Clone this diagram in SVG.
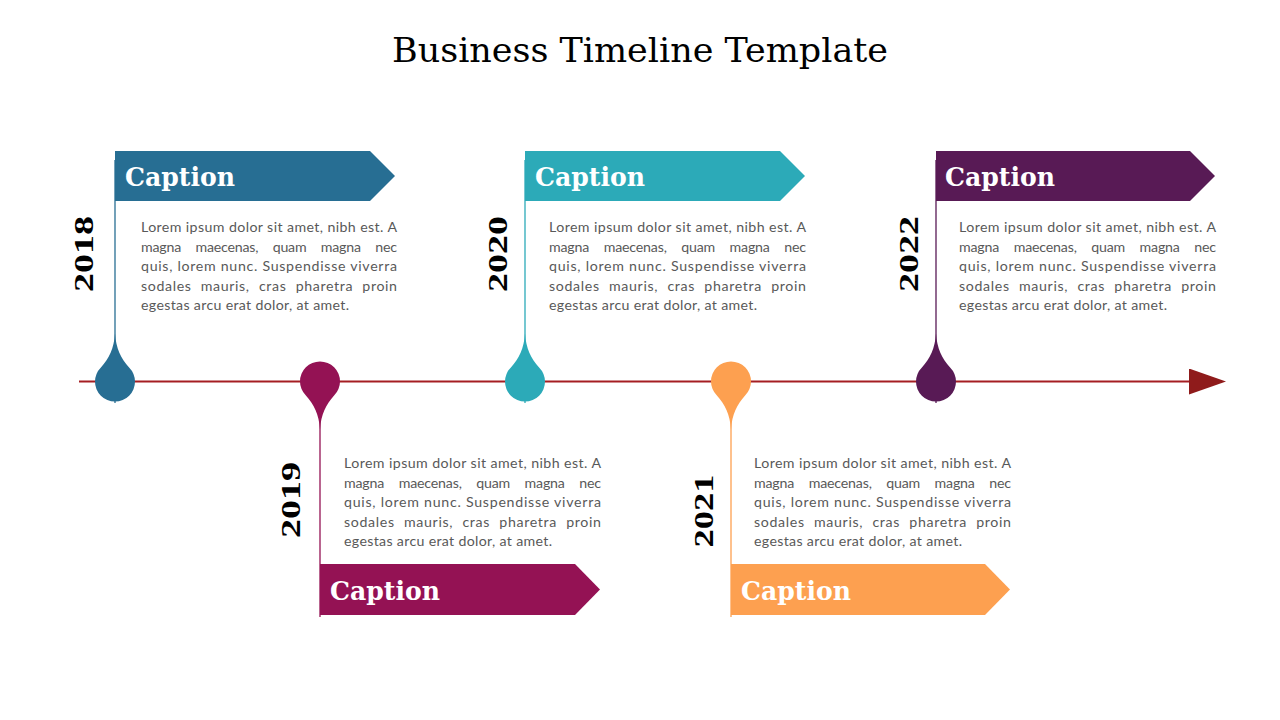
<svg xmlns="http://www.w3.org/2000/svg" xmlns:xlink="http://www.w3.org/1999/xlink" width="1280" height="720" viewBox="0 0 1280 720">
<style>
.title{font-family:"DejaVu Serif","Liberation Serif",serif;font-size:33px;fill:#000}
.cap{font-family:"DejaVu Serif","Liberation Serif",serif;font-weight:bold;font-size:26px;fill:#fff}
.year{font-family:"Liberation Serif","DejaVu Serif",serif;font-weight:bold;font-size:27px;fill:#000}
.body{font-family:Lato,"Open Sans",sans-serif;font-size:14.2px;fill:#595959}
.stem{stroke-width:1.3;fill:none}
</style>
<defs>
<path id="dropUp" d="M0,-48 C1,-33 6,-23 14.1,-14.1 A20,20 0 1 1 -14.1,-14.1 C-6,-23 -1,-33 0,-48 Z"/>
<path id="dropDown" d="M0,48 C1,33 6,23 14.1,14.1 A20,20 0 1 0 -14.1,14.1 C-6,23 -1,33 0,48 Z"/>
<marker id="arrow" markerWidth="37" markerHeight="26" refX="0" refY="13" orient="auto" markerUnits="userSpaceOnUse">
<path d="M0,0 L37,13 L0,26 Z" fill="#8F1B1B"/>
</marker>
</defs>
<rect width="1280" height="720" fill="#fff"/>
<text class="title" x="640" y="62" text-anchor="middle" textLength="496" lengthAdjust="spacingAndGlyphs">Business Timeline Template</text>

<g id="connectors">
<line x1="79" y1="381.5" x2="1189" y2="381.5" stroke="#A51E22" stroke-width="2" marker-end="url(#arrow)"/>
</g>

<g id="node-2018">
<line class="stem" x1="115" y1="160" x2="115" y2="403" stroke="#276E93"/>
<use xlink:href="#dropUp" transform="translate(115,381.5)" fill="#276E93"/>
<polygon points="115,151 370,151 395,176 370,201 115,201" fill="#276E93"/>
<text class="cap" x="125" y="186" textLength="110" lengthAdjust="spacingAndGlyphs">Caption</text>
<text class="year" transform="translate(93,254) rotate(-90)" text-anchor="middle" textLength="76" lengthAdjust="spacingAndGlyphs">2018</text>
<g class="body">
<text x="141" y="232" textLength="256" lengthAdjust="spacing">Lorem ipsum dolor sit amet, nibh est. A</text>
<text x="141" y="251.5" textLength="256" lengthAdjust="spacing" word-spacing="11">magna maecenas, quam magna nec</text>
<text x="141" y="271" textLength="256" lengthAdjust="spacing">quis, lorem nunc. Suspendisse viverra</text>
<text x="141" y="290.5" textLength="256" lengthAdjust="spacing" word-spacing="5">sodales mauris, cras pharetra proin</text>
<text x="141" y="310" textLength="208" lengthAdjust="spacing">egestas arcu erat dolor, at amet.</text>
</g>
</g>

<g id="node-2019">
<line class="stem" x1="320" y1="381" x2="320" y2="617" stroke="#941254"/>
<use xlink:href="#dropDown" transform="translate(320,381.5)" fill="#941254"/>
<polygon points="320,564 575,564 600,589.5 575,615 320,615" fill="#941254"/>
<text class="cap" x="330" y="600" textLength="110" lengthAdjust="spacingAndGlyphs">Caption</text>
<text class="year" transform="translate(300,500) rotate(-90)" text-anchor="middle" textLength="76" lengthAdjust="spacingAndGlyphs">2019</text>
<g class="body">
<text x="344" y="468" textLength="257" lengthAdjust="spacing">Lorem ipsum dolor sit amet, nibh est. A</text>
<text x="344" y="487.5" textLength="257" lengthAdjust="spacing" word-spacing="11">magna maecenas, quam magna nec</text>
<text x="344" y="507" textLength="257" lengthAdjust="spacing">quis, lorem nunc. Suspendisse viverra</text>
<text x="344" y="526.5" textLength="257" lengthAdjust="spacing" word-spacing="5">sodales mauris, cras pharetra proin</text>
<text x="344" y="546" textLength="208" lengthAdjust="spacing">egestas arcu erat dolor, at amet.</text>
</g>
</g>

<g id="node-2020">
<line class="stem" x1="525" y1="160" x2="525" y2="403" stroke="#2CAAB8"/>
<use xlink:href="#dropUp" transform="translate(525,381.5)" fill="#2CAAB8"/>
<polygon points="525,151 780,151 805,176 780,201 525,201" fill="#2CAAB8"/>
<text class="cap" x="535" y="186" textLength="110" lengthAdjust="spacingAndGlyphs">Caption</text>
<text class="year" transform="translate(507,254) rotate(-90)" text-anchor="middle" textLength="76" lengthAdjust="spacingAndGlyphs">2020</text>
<g class="body">
<text x="549" y="232" textLength="257" lengthAdjust="spacing">Lorem ipsum dolor sit amet, nibh est. A</text>
<text x="549" y="251.5" textLength="257" lengthAdjust="spacing" word-spacing="11">magna maecenas, quam magna nec</text>
<text x="549" y="271" textLength="257" lengthAdjust="spacing">quis, lorem nunc. Suspendisse viverra</text>
<text x="549" y="290.5" textLength="257" lengthAdjust="spacing" word-spacing="5">sodales mauris, cras pharetra proin</text>
<text x="549" y="310" textLength="208" lengthAdjust="spacing">egestas arcu erat dolor, at amet.</text>
</g>
</g>

<g id="node-2021">
<line class="stem" x1="731" y1="381" x2="731" y2="617" stroke="#FDA050"/>
<use xlink:href="#dropDown" transform="translate(731,381.5)" fill="#FDA050"/>
<polygon points="731,564 985,564 1010,589.5 985,615 731,615" fill="#FDA050"/>
<text class="cap" x="741" y="600" textLength="110" lengthAdjust="spacingAndGlyphs">Caption</text>
<text class="year" transform="translate(713,511) rotate(-90)" text-anchor="middle" textLength="73" lengthAdjust="spacingAndGlyphs">2021</text>
<g class="body">
<text x="754" y="468" textLength="257" lengthAdjust="spacing">Lorem ipsum dolor sit amet, nibh est. A</text>
<text x="754" y="487.5" textLength="257" lengthAdjust="spacing" word-spacing="11">magna maecenas, quam magna nec</text>
<text x="754" y="507" textLength="257" lengthAdjust="spacing">quis, lorem nunc. Suspendisse viverra</text>
<text x="754" y="526.5" textLength="257" lengthAdjust="spacing" word-spacing="5">sodales mauris, cras pharetra proin</text>
<text x="754" y="546" textLength="208" lengthAdjust="spacing">egestas arcu erat dolor, at amet.</text>
</g>
</g>

<g id="node-2022">
<line class="stem" x1="936" y1="160" x2="936" y2="403" stroke="#581A55"/>
<use xlink:href="#dropUp" transform="translate(936,381.5)" fill="#581A55"/>
<polygon points="936,151 1190,151 1215,176 1190,201 936,201" fill="#581A55"/>
<text class="cap" x="945" y="186" textLength="110" lengthAdjust="spacingAndGlyphs">Caption</text>
<text class="year" transform="translate(918,254) rotate(-90)" text-anchor="middle" textLength="76" lengthAdjust="spacingAndGlyphs">2022</text>
<g class="body">
<text x="959" y="232" textLength="257" lengthAdjust="spacing">Lorem ipsum dolor sit amet, nibh est. A</text>
<text x="959" y="251.5" textLength="257" lengthAdjust="spacing" word-spacing="11">magna maecenas, quam magna nec</text>
<text x="959" y="271" textLength="257" lengthAdjust="spacing">quis, lorem nunc. Suspendisse viverra</text>
<text x="959" y="290.5" textLength="257" lengthAdjust="spacing" word-spacing="5">sodales mauris, cras pharetra proin</text>
<text x="959" y="310" textLength="208" lengthAdjust="spacing">egestas arcu erat dolor, at amet.</text>
</g>
</g>
</svg>
